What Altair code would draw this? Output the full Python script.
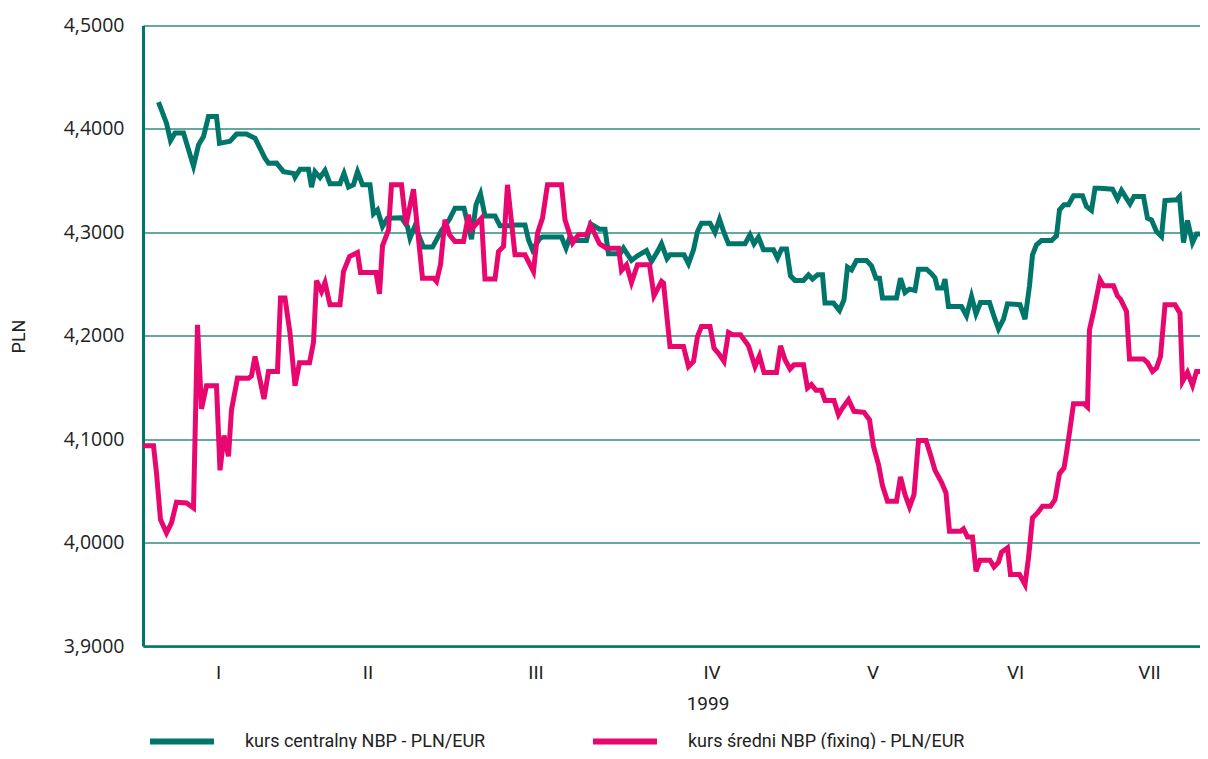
import altair as alt
import pandas as pd

# trading-day index (x) and exchange rate (PLN per EUR)
central_t = [3.1, 4.7, 5.5, 6.4, 8.1, 10.1, 11.1, 12.1, 13.1, 14.7, 15.3, 17.4, 18.7, 20.7, 22.4,
             24.4, 25.1, 26.7, 28.1, 30.1, 30.4, 31.4, 33.1, 33.7, 34.4, 35.4, 36.4, 37.4, 39.4,
             40.2, 41.1, 42.1, 42.9, 43.9, 45.4, 46.1, 46.9, 47.9, 48.9, 51.7, 52.9, 53.4, 54.4,
             56.1, 57.9, 59.7, 61.3, 62.4, 64.2, 65.7, 66.6, 67.5, 68.4, 70.4, 71.4, 73.7, 74.4,
             76.4, 77.1, 77.9, 79.4, 79.9, 83.7, 84.6, 85.4, 86.4, 88.7, 89.5, 91.3, 92.4, 93.1,
             95.4, 96.1, 97.7, 98.9, 100.7, 101.7, 102.9, 103.7, 104.8, 105.4, 108.2, 109.1,
             110.1, 110.9, 111.7, 113.4, 114.4, 115.3, 116.2, 117.1, 120.4, 121.4, 122.2, 123.1,
             124.1, 126.1, 126.9, 127.7, 128.7, 129.5, 130.4, 132.1, 133.1, 133.9, 134.9, 135.9,
             136.4, 138.1, 139.3, 140.2, 140.9, 141.7, 142.7, 144.7, 145.7, 146.6, 147.3, 147.9,
             150.7, 151.5, 152.4, 153.3, 154.4, 155.1, 156.7, 157.7, 158.4, 158.9, 159.9, 160.4,
             161.1, 163.7, 164.7, 165.7, 166.6, 167.5, 169.3, 170.2, 171.1, 172.1, 172.9, 175.4,
             176.4, 177.3, 177.9, 178.7, 179.7, 181.7, 182.7, 183.3, 184.2, 185.1, 186.1, 187.9,
             188.7, 189.7, 190.4, 191.4, 193.9, 194.9, 195.7, 197.4, 198.2, 200.1, 200.9, 201.7,
             202.7, 203.7, 204.4, 206.7, 207.3, 208.1, 208.9, 209.9, 210.7, 213.0]
central_v = [4.426, 4.4055, 4.3887, 4.396, 4.396, 4.364, 4.3845, 4.3926, 4.412, 4.412, 4.386, 4.388,
             4.395, 4.395, 4.391, 4.3717, 4.3669, 4.367, 4.3587, 4.357, 4.3533, 4.361, 4.361,
             4.3437, 4.3587, 4.353, 4.3597, 4.347, 4.347, 4.357, 4.3437, 4.346, 4.3587, 4.346,
             4.346, 4.318, 4.3217, 4.3056, 4.3137, 4.3140, 4.3056, 4.2944, 4.3063, 4.2857, 4.2857,
             4.3017, 4.3127, 4.3234, 4.3234, 4.2934, 4.3266, 4.3372, 4.3159, 4.3159, 4.3063,
             4.3063, 4.3072, 4.3072, 4.2928, 4.2831, 4.2944, 4.2954, 4.2954, 4.2847, 4.2959,
             4.292, 4.292, 4.3082, 4.3031, 4.3031, 4.2792, 4.2792, 4.2847, 4.2728, 4.2773, 4.2824,
             4.2718, 4.2814, 4.2889, 4.2745, 4.2783, 4.2783, 4.2696, 4.2831, 4.3008, 4.3089,
             4.3089, 4.2998, 4.3127, 4.2998, 4.2889, 4.2889, 4.2976, 4.2889, 4.2954, 4.2831,
             4.2831, 4.2751, 4.2838, 4.2838, 4.258, 4.2534, 4.2534, 4.2589, 4.2548, 4.2589, 4.2589,
             4.2316, 4.2316, 4.2245, 4.2348, 4.2664, 4.2638, 4.2728, 4.2728, 4.2676, 4.2557,
             4.2557, 4.2364, 4.2364, 4.2557, 4.2418, 4.2451, 4.2438, 4.2644, 4.2644, 4.2600,
             4.2560, 4.2461, 4.2461, 4.2548, 4.2283, 4.2283, 4.2193, 4.238, 4.2213, 4.2322, 4.2322,
             4.2187, 4.2065, 4.2161, 4.2309, 4.23, 4.2161, 4.2483, 4.2783, 4.288, 4.292, 4.292,
             4.2966, 4.3217, 4.3266, 4.3266, 4.3353, 4.3353, 4.3249, 4.3211, 4.3427, 4.3427,
             4.3417, 4.3321, 4.3404, 4.3275, 4.3346, 4.3346, 4.3137, 4.3121, 4.3008, 4.296, 4.3307,
             4.3314, 4.3346, 4.2901, 4.3114, 4.2901, 4.2985, 4.2985]

fixing_t = [0.0, 2.1, 2.7, 3.5, 4.7, 5.7, 6.7, 8.7, 10.1, 10.9, 11.7, 12.7, 14.7, 15.4, 16.2, 17.1,
            17.7, 18.9, 21.1, 21.7, 22.4, 24.2, 25.1, 26.9, 27.5, 28.4, 29.4, 30.4, 31.3, 33.3,
            34.1, 34.7, 35.7, 36.4, 37.4, 39.4, 40.1, 41.3, 42.9, 43.5, 46.6, 47.3, 47.9, 49.1,
            49.7, 51.7, 52.6, 54.1, 55.9, 58.1, 58.7, 59.5, 60.4, 61.3, 62.4, 64.1, 65.1, 65.7,
            67.7, 68.4, 70.4, 71.1, 72.1, 72.9, 74.4, 76.4, 78.1, 78.9, 79.9, 80.9, 83.7, 84.4,
            85.9, 87.1, 88.7, 89.5, 91.3, 92.7, 95.1, 95.7, 96.7, 97.7, 98.9, 101.3, 102.2, 103.7,
            104.1, 105.4, 108.1, 109.1, 110.1, 110.9, 111.7, 113.4, 114.2, 115.3, 116.2, 117.1,
            117.9, 119.5, 121.1, 122.4, 123.3, 124.2, 126.7, 127.5, 128.4, 129.4, 130.2, 132.1,
            132.9, 133.7, 134.6, 135.7, 136.4, 138.2, 139.1, 139.9, 141.1, 142.2, 144.2, 145.3,
            146.1, 147.1, 147.9, 148.9, 150.7, 151.5, 152.4, 153.3, 154.2, 155.1, 156.6, 157.5,
            158.4, 159.7, 160.6, 161.3, 163.5, 164.1, 164.9, 165.9, 166.6, 167.4, 169.4, 170.2,
            171.1, 171.7, 172.9, 173.5, 175.3, 176.4, 177.1, 177.9, 178.9, 179.9, 181.5, 182.4,
            183.3, 184.2, 184.7, 185.4, 186.1, 188.2, 188.9, 189.3, 190.2, 191.4, 192.1, 194.1,
            194.9, 195.5, 196.7, 197.3, 200.1, 200.9, 201.9, 202.7, 203.5, 204.4, 206.4, 207.4,
            207.9, 208.9, 209.9, 210.7, 212.4, 213.0]
fixing_v = [4.0937, 4.0937, 4.0673, 4.0222, 4.0094, 4.019, 4.039, 4.0383, 4.0335, 4.2106, 4.1292,
            4.1517, 4.1517, 4.0699, 4.1034, 4.0834, 4.1285, 4.1591, 4.159, 4.1613, 4.18, 4.1388,
            4.1655, 4.1655, 4.2364, 4.2364, 4.2026, 4.1517, 4.174, 4.174, 4.1935, 4.2534, 4.2428,
            4.2515, 4.23, 4.23, 4.2621, 4.2766, 4.2805, 4.2612, 4.2612, 4.2406, 4.287, 4.3024,
            4.3459, 4.3459, 4.3072, 4.3417, 4.2557, 4.2557, 4.2525, 4.2686, 4.3121, 4.2976,
            4.2911, 4.2911, 4.3169, 4.303, 4.3137, 4.2548, 4.2548, 4.2814, 4.2863, 4.3459, 4.2783,
            4.2783, 4.2621, 4.2992, 4.3137, 4.3459, 4.3459, 4.3121, 4.2896, 4.2976, 4.2976,
            4.3072, 4.2889, 4.2847, 4.2847, 4.2631, 4.2686, 4.2515, 4.2686, 4.2686, 4.2386,
            4.2525, 4.2509, 4.1897, 4.1897, 4.1703, 4.1752, 4.1993, 4.209, 4.209, 4.1881, 4.1816,
            4.1752, 4.2032, 4.201, 4.201, 4.1903, 4.1703, 4.1807, 4.1645, 4.1645, 4.1903, 4.1768,
            4.1678, 4.172, 4.172, 4.1495, 4.1527, 4.1472, 4.1472, 4.1375, 4.1375, 4.1237, 4.1301,
            4.1382, 4.1269, 4.126, 4.1188, 4.093, 4.0754, 4.0551, 4.0399, 4.0399, 4.0635, 4.0464,
            4.0345, 4.0464, 4.0988, 4.0988, 4.085, 4.07, 4.0583, 4.048, 4.0109, 4.0109, 4.0132,
            4.0055, 4.0055, 3.9722, 3.9829, 3.9829, 3.9765, 3.981, 3.9906, 3.9949, 3.9691, 3.9691,
            3.9594, 3.9852, 4.0239, 4.0287, 4.0351, 4.0351, 4.0415, 4.0667, 4.0722, 4.0867,
            4.1099, 4.1343, 4.1343, 4.1311, 4.2058, 4.2251, 4.2541, 4.2483, 4.2483, 4.2386,
            4.2354, 4.2235, 4.1775, 4.1775, 4.174, 4.1655, 4.1688, 4.18, 4.23, 4.23, 4.2219,
            4.1558, 4.1645, 4.152, 4.1655, 4.1655, 4.173]

series_names = ["kurs centralny NBP - PLN/EUR", "kurs średni NBP (fixing) - PLN/EUR"]
series_colors = ["#00766b", "#e8066f"]

month_pos = [15.0, 44.9, 78.5, 113.7, 145.9, 174.4, 201.2]
month_lab = ["I", "II", "III", "IV", "V", "VI", "VII"]
y_ticks = [3.9, 4.0, 4.1, 4.2, 4.3, 4.4, 4.5]

df = pd.concat([
    pd.DataFrame({"t": central_t, "v": central_v, "series": series_names[0]}),
    pd.DataFrame({"t": fixing_t, "v": fixing_v, "series": series_names[1]}),
], ignore_index=True)

month_expr = " : ".join(
    f"datum.value == {p} ? '{l}'" for p, l in zip(month_pos, month_lab)
) + " : ''"

COND = "Roboto, sans-serif"
REG = "Open Sans, Noto Sans, sans-serif"
TEAL = "#00766b"

chart = alt.Chart(df).mark_line(strokeWidth=5, clip=True).encode(
    x=alt.X("t:Q",
            scale=alt.Scale(domain=[0, 211.4], nice=False, zero=False),
            axis=alt.Axis(values=month_pos, labelExpr=month_expr, title="1999",
                          grid=False, ticks=False, domainColor=TEAL, domainWidth=2.5,
                          labelFont=COND, labelFontSize=19, labelColor="#222222",
                          labelPadding=17, labelFlush=False,
                          titleFont=COND, titleFontSize=19, titleFontWeight="normal",
                          titleColor="#222222", titleX=564.5, titleY=57,
                          titleBaseline="middle", titleAlign="center")),
    y=alt.Y("v:Q",
            scale=alt.Scale(domain=[3.9, 4.5], nice=False, zero=False),
            axis=alt.Axis(values=y_ticks,
                          labelExpr="replace(format(datum.value, '.4f'), '.', ',')",
                          title="PLN", grid=True, gridColor="#2f8c82", gridWidth=1.3,
                          ticks=False, domainColor=TEAL, domainWidth=3,
                          labelFont=REG, labelFontSize=19.5, labelColor="#222222",
                          labelPadding=19, labelBaseline="middle",
                          titleFont=COND, titleFontSize=18, titleFontWeight="normal",
                          titleColor="#222222", titleAngle=270, titleX=-124, titleY=310.5,
                          titleBaseline="middle", titleAlign="center")),
    color=alt.Color("series:N",
                    scale=alt.Scale(domain=series_names, range=series_colors),
                    legend=alt.Legend(title=None, orient="none", legendX=4, legendY=681,
                                      direction="horizontal", symbolType="stroke",
                                      symbolStrokeWidth=6, symbolSize=4096,
                                      labelFont=COND, labelFontSize=18, labelLimit=500,
                                      labelColor="#222222", labelOffset=28,
                                      columnPadding=95)),
).properties(
    width=1057, height=620.5, autosize="none",
    padding={"left": 135, "top": 17.5, "right": 0, "bottom": 103},
).configure_view(stroke=None)

chart.save("out.html", embed_options={"renderer": "svg", "actions": False})
